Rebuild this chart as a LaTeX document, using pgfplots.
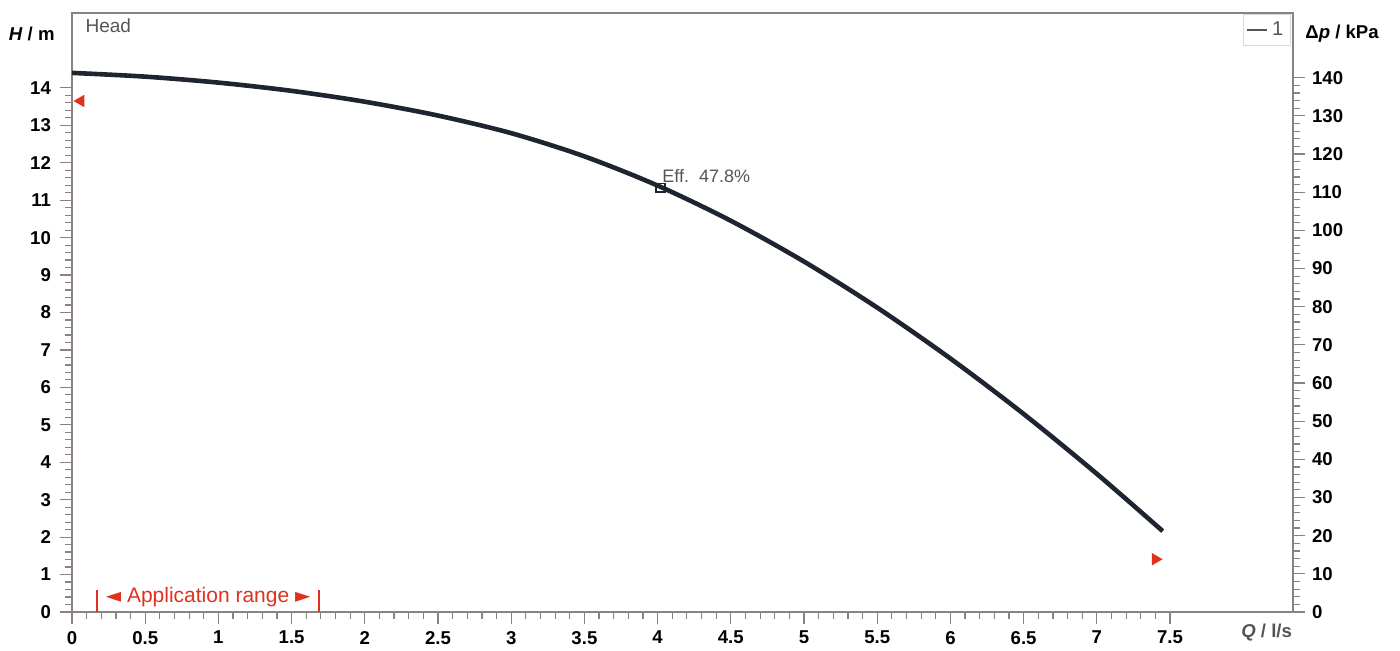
\documentclass[border=0pt]{standalone}
\usepackage{fontspec}
\setmainfont{Liberation Sans}
\newfontfamily\dejavu{DejaVu Sans}
\usepackage{pgfplots}
\pgfplotsset{compat=1.18}
\definecolor{spine}{HTML}{8A8282}
\definecolor{curve}{HTML}{1E2430}
\definecolor{appred}{HTML}{E0301E}
\definecolor{txtgray}{HTML}{555555}

\pgfplotstableread{
Q H
0 14.40
0.5 14.30
1 14.14
1.5 13.92
2 13.63
2.5 13.26
3 12.79
3.5 12.17
4 11.39
4.5 10.45
5 9.36
5.5 8.13
6 6.77
6.5 5.29
7 3.69
7.45 2.16
}\headdata

\begin{document}
\begin{tikzpicture}
\begin{axis}[
  name=main,
  scale only axis, width=610.5pt, height=299.5pt,
  xmin=0, xmax=8.34, ymin=0, ymax=16,
  clip=false,
  axis line style={spine, line width=0.8pt},
  xtick={0,0.5,...,7.5}, ytick={0,1,...,14},
  minor x tick num=4, minor y tick num=4,
  xtick pos=bottom, ytick pos=left,
  tick align=outside,
  major tick length=6pt, minor tick length=3.5pt,
  every tick/.style={spine, line width=0.6pt},
  /pgf/number format/assume math mode=true,
  ticklabel style={font=\fontsize{9.3}{10}\selectfont\bfseries, text=black},
  yticklabel style={xshift=-1pt},
  legend style={at={(rel axis cs:0.998,0.998)}, anchor=north east, draw=gray!30,
    font=\fontsize{10}{11}\selectfont, text=txtgray, inner sep=1.5pt},
  legend image code/.code={\draw[txtgray, line width=0.8pt] (0cm,0cm) -- (0.35cm,0cm);},
]
\addplot[curve, line width=2.3pt, smooth, tension=0.5] table[x=Q, y=H] {\headdata};
\addlegendentry{1}
\addplot[only marks, mark=square, mark size=2.2pt, mark options={draw=curve, fill=white, line width=0.8pt}] coordinates {(4.02,11.33)};
\addplot[only marks, mark=triangle*, mark size=3.2pt, appred, mark options={rotate=90}] coordinates {(0.06,13.65)};
\addplot[only marks, mark=triangle*, mark size=3.2pt, appred, mark options={rotate=-90}] coordinates {(7.40,1.41)};
\addplot[appred, line width=1pt] coordinates {(0.17,0) (0.17,0.58)};
\addplot[appred, line width=1pt] coordinates {(1.69,0) (1.69,0.58)};
\node[anchor=west, text=txtgray, font=\fontsize{9}{10}\selectfont, inner sep=0pt] at (axis cs:4.03,11.65) {Eff.\ \ 47.8\%};
\node[text=appred, font=\fontsize{10.5}{12}\selectfont, inner sep=0pt] at (axis cs:0.93,0.40) {{\dejavu\fontsize{10}{12}\selectfont ◄} Application range {\dejavu\fontsize{10}{12}\selectfont ►}};
\node[anchor=west, text=txtgray, font=\fontsize{9.5}{11}\selectfont, inner sep=0pt] at (axis cs:0.09,15.65) {Head};
\node[anchor=east, font=\fontsize{9.3}{10}\selectfont\bfseries, inner sep=0pt] at ([xshift=-8.5pt]axis cs:0,15.44) {\textit{H} / m};
\node[anchor=west, font=\fontsize{9.3}{10}\selectfont\bfseries, inner sep=0pt] at ([xshift=6pt]axis cs:8.34,15.44) {Δ\textit{p} / kPa};
\node[font=\fontsize{9.3}{10}\selectfont\bfseries, text=txtgray, inner sep=0pt] at ([yshift=-10.5pt]axis cs:8.16,0) {\textit{Q} / l/s};
\end{axis}
\begin{axis}[
  scale only axis, width=610.5pt, height=299.5pt,
  at={(main.south west)}, anchor=south west,
  xmin=0, xmax=8.34, ymin=0, ymax=156.96,
  axis x line=none, axis y line*=right,
  axis line style={spine, line width=0.8pt},
  ytick={0,10,...,140}, minor y tick num=4,
  tick align=outside,
  major tick length=6pt, minor tick length=3.5pt,
  every tick/.style={spine, line width=0.6pt},
  /pgf/number format/assume math mode=true,
  ticklabel style={font=\fontsize{9.3}{10}\selectfont\bfseries, text=black},
]
\addplot[draw=none] coordinates {(0,0)};
\end{axis}
\pgfresetboundingbox
\path[use as bounding box] ([xshift=-36pt,yshift=-19.5pt]main.south west) rectangle ([xshift=53.5pt,yshift=6.5pt]main.north east);
\end{tikzpicture}
\end{document}
